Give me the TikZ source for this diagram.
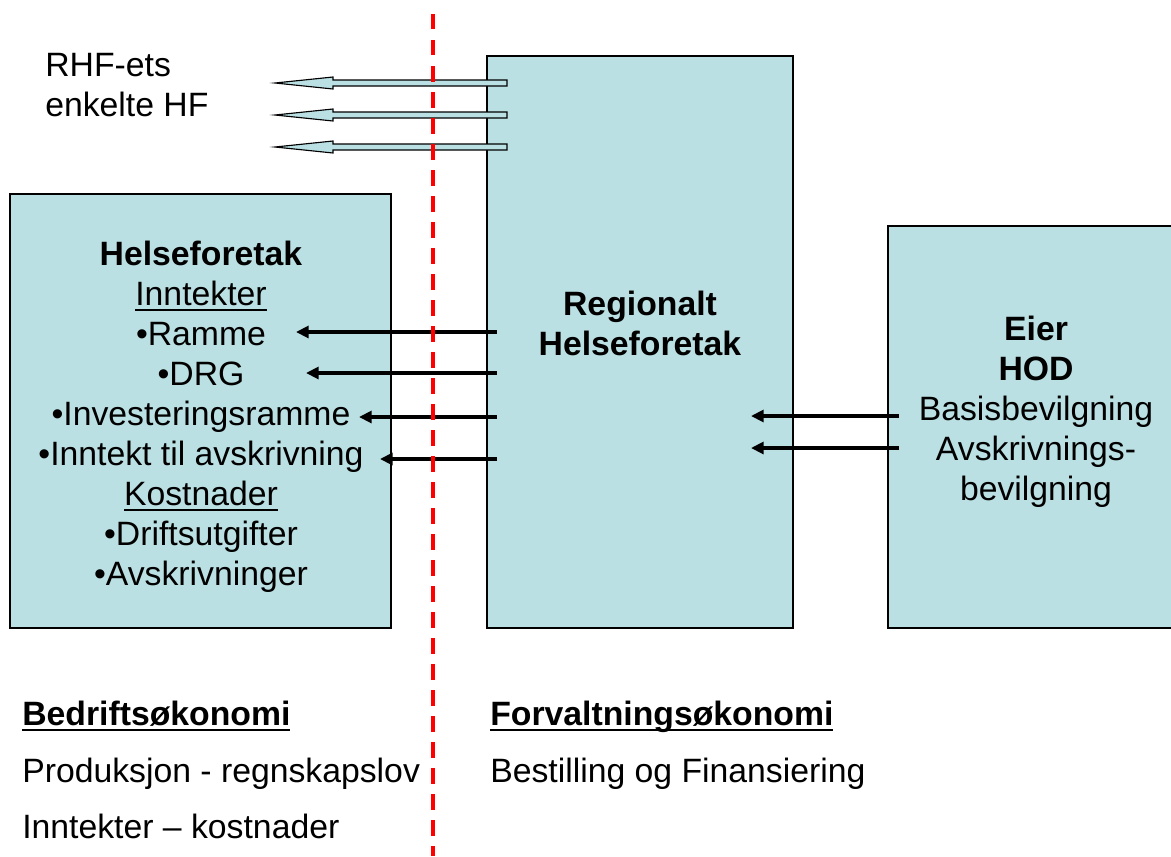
\documentclass[tikz,border=0pt]{standalone}
\usepackage{fontspec}
\setmainfont{Liberation Sans}
\usepackage{xcolor}
\usepackage{tikz}
\usetikzlibrary{arrows.meta}
\definecolor{boksblaa}{RGB}{187,224,227}
\newcommand{\strek}[1]{\leavevmode\setbox0=\hbox{#1}\rlap{\rule[-4pt]{\wd0}{1.3pt}}\box0}

\begin{document}
\begin{tikzpicture}[x=0.025cm, y=-0.025cm]
\tikzstyle{boks}=[rectangle, draw, line width=0.9pt, fill=boksblaa, inner sep=0pt]
\tikzstyle{tekst}=[inner sep=0pt, anchor=base, font=\fontsize{24}{28}\selectfont]
\tikzstyle{venstre}=[tekst, anchor=base west]
\tikzstyle{pil}=[line width=2.6pt, -{Triangle[length=9pt, width=8.5pt]}]
\tikzstyle{hulpil}=[draw, fill=boksblaa, line width=0.8pt]
\tikzstyle{skille}=[red, line width=3.3pt, dash pattern=on 11pt off 7.5pt]
\useasboundingbox (0,0) rectangle (1171,856);

\node[boks, minimum width=9.525cm, minimum height=10.85cm] (hf) at (200.5,411) {};
\node[boks, minimum width=7.65cm, minimum height=14.3cm] (rhf) at (640,342) {};
\node[boks, minimum width=7.1cm, minimum height=10.05cm] (eier) at (1030,427) {};

\filldraw[hulpil] (507,80) -- (333,80) -- (333,77) -- (275,83) -- (333,89) -- (333,86) -- (507,86) -- cycle;
\filldraw[hulpil] (507,112) -- (333,112) -- (333,109) -- (275,115) -- (333,121) -- (333,118) -- (507,118) -- cycle;
\filldraw[hulpil] (507,144) -- (333,144) -- (333,141) -- (275,147) -- (333,153) -- (333,150) -- (507,150) -- cycle;

\node[venstre] (rhfets) at (45,76) {RHF-ets};
\node[venstre] (enkelte) at (45,116) {enkelte HF};

\node[tekst] (hftittel) at (201,265) {\textbf{Helseforetak}};
\node[tekst] (inntekter) at (201,305) {\strek{Inntekter}};
\node[tekst] (ramme) at (201,345) {•Ramme};
\node[tekst] (drg) at (201,385) {•DRG};
\node[tekst] (invest) at (201,425) {•Investeringsramme};
\node[tekst] (avskr) at (201,465) {•Inntekt til avskrivning};
\node[tekst] (kostnader) at (201,505) {\strek{Kostnader}};
\node[tekst] (drift) at (201,545) {•Driftsutgifter};
\node[tekst] (avskrivninger) at (201,585) {•Avskrivninger};

\node[tekst] (regionalt) at (640,315) {\textbf{Regionalt}};
\node[tekst] (rhftittel) at (640,355) {\textbf{Helseforetak}};

\node[tekst] (eiertittel) at (1036,340) {\textbf{Eier}};
\node[tekst] (hod) at (1036,380) {\textbf{HOD}};
\node[tekst] (basis) at (1036,420) {Basisbevilgning};
\node[tekst] (avskrbev1) at (1036,460) {Avskrivnings-};
\node[tekst] (avskrbev2) at (1036,500) {bevilgning};

\node[venstre] (bedrift) at (22,725) {\textbf{\strek{Bedriftsøkonomi}}};
\node[venstre] (produksjon) at (22,782) {Produksjon - regnskapslov};
\node[venstre] (inntkost) at (22,838) {Inntekter – kostnader};
\node[venstre] (forvaltning) at (490,725) {\textbf{\strek{Forvaltningsøkonomi}}};
\node[venstre] (bestilling) at (490,782) {Bestilling og Finansiering};

\coordinate (r1) at (497,332);
\coordinate (r2) at (497,373);
\coordinate (r3) at (497,417);
\coordinate (r4) at (497,459);
\coordinate (h1) at (296,332);
\coordinate (h2) at (306,373);
\coordinate (h3) at (359,417);
\coordinate (h4) at (380,459);
\coordinate (e1) at (899,416);
\coordinate (e2) at (899,448);
\coordinate (f1) at (751,416);
\coordinate (f2) at (751,448);

\path
(r1) edge[pil] (h1)
(r2) edge[pil] (h2)
(r3) edge[pil] (h3)
(r4) edge[pil] (h4)
(e1) edge[pil] (f1)
(e2) edge[pil] (f2);

\draw[skille] (433,14) -- (433,856);

\end{tikzpicture}
\end{document}
